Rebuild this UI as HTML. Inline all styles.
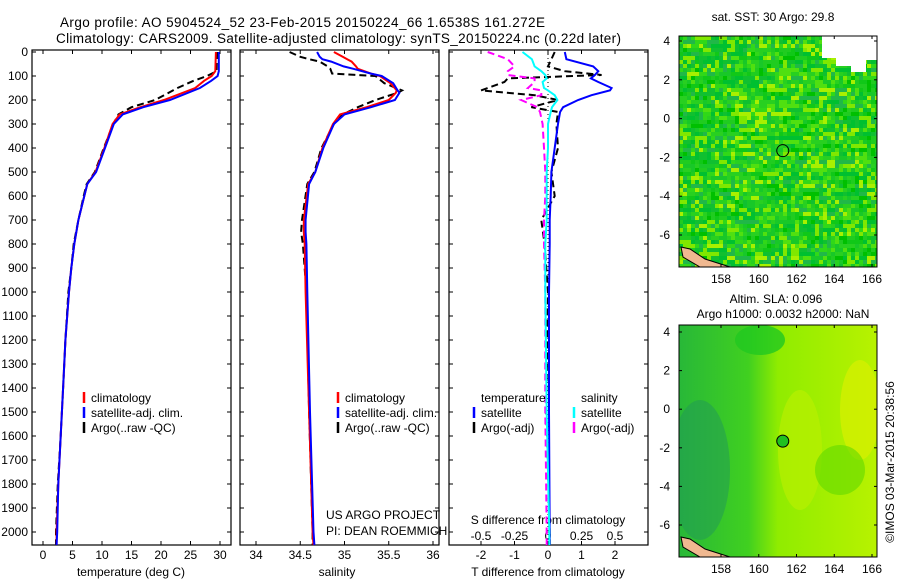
<!DOCTYPE html>
<html><head><meta charset="utf-8"><style>
html,body{margin:0;padding:0;background:#fff;}
svg{display:block;font-family:"Liberation Sans",sans-serif;}
</style></head><body>
<svg id="fig" width="900" height="580" viewBox="0 0 900 580" xmlns="http://www.w3.org/2000/svg">
<text x="60" y="27" font-size="13.5" textLength="485">Argo profile: AO 5904524_52 23-Feb-2015 20150224_66 1.6538S 161.272E</text>
<text x="56" y="43" font-size="13.5" textLength="565">Climatology: CARS2009. Satellite-adjusted climatology: synTS_20150224.nc (0.22d later)</text>
<g id="plots"></g>
</svg>
<script>
// ---- data ----
const tDepth   = [0,80,100,120,150,200,230,260,300,400,500,550,600,700,800,900,1000,1200,1400,1600,1800,2000,2054];
const tClim    = [29.3,29.2,28.6,27.3,25.8,20.5,16.5,13,11.8,10.4,8.9,7.5,7,6,5.3,4.8,4.4,3.8,3.4,3,2.6,2.3,2.3];
const tSat     = [29.8,29.8,29.6,28.5,26.6,21.5,17,13.5,12,10.5,9,7.5,7,6,5.3,4.8,4.4,3.8,3.4,3,2.6,2.4,2.3];
const tArgo    = [29.5,29.4,27.8,25.5,22.8,19,15,12.8,11.9,10.3,8.8,7.4,6.9,6,5.2,4.8,4.3,3.8,3.4,3,2.5,2.2,2.2];
const sDepth   = [0,20,30,40,60,70,90,100,130,160,170,200,230,260,300,400,500,550,700,750,800,1000,1500,2000,2054];
const sClim    = [34.88,34.98,35.03,35.08,35.13,35.15,35.3,35.4,35.52,35.59,35.58,35.5,35.25,34.95,34.87,34.75,34.67,34.59,34.54,34.54,34.55,34.56,34.6,34.64,34.65];
const sSat     = [34.69,34.72,34.75,34.85,34.99,35.1,35.3,35.42,35.55,35.6,35.62,35.57,35.3,35.0,34.88,34.76,34.67,34.6,34.56,34.56,34.57,34.58,34.61,34.65,34.66];
const sArgo    = [34.38,34.5,34.6,34.72,34.81,34.84,34.86,35.35,35.45,35.65,35.6,35.35,35.15,34.98,34.88,34.74,34.66,34.58,34.52,34.51,34.53,34.57,34.6,34.64,34.64];
const dDepth   = [0,30,60,80,96,110,125,150,160,180,200,230,250,300,400,500,600,700,800,1000,1500,2000,2054];
const dTSat    = [0.5,0.55,1.35,1.5,1.4,1.28,1.5,1.9,1.85,1.3,0.9,0.45,0.36,0.3,0.2,0.1,0.08,0.05,0.05,0.03,0.03,0.05,0.05];
const dTArgo   = [0.2,0.1,0,0.5,1.6,-1.2,-1.3,-1.8,-2.0,-0.4,0.3,-0.5,0.3,0.25,0.3,0.1,0.2,-0.2,-0.1,0,-0.05,0.05,0.05];
const dSSat    = [-0.19,-0.12,-0.1,-0.05,-0.02,-0.01,-0.04,-0.03,0.0,0.05,0.07,0.03,0.02,0.0,0.0,-0.01,-0.01,-0.01,-0.02,-0.02,-0.01,0.01,0.01];
const dSArgo   = [-0.45,-0.3,-0.25,-0.3,-0.3,-0.1,-0.1,-0.15,-0.05,-0.05,-0.2,-0.08,-0.06,-0.04,-0.03,-0.02,-0.02,-0.03,-0.03,-0.02,-0.02,-0.01,-0.01];
const depthTicks = [0,100,200,300,400,500,600,700,800,900,1000,1100,1200,1300,1400,1500,1600,1700,1800,1900,2000];
const tTicks = [0,5,10,15,20,25,30];
const sTicks = [34,34.5,35,35.5,36];
const dTTicks = [-2,-1,0,1,2];
const dSTicks = [-0.5,-0.25,0,0.25,0.5];
const lonTicks = [158,160,162,164,166];
const latTicks = [4,2,0,-2,-4,-6];
const floatLon = [161.272];
const floatLat = [-1.6538];

const NS='http://www.w3.org/2000/svg';
const root=document.getElementById('plots');
function mk(tag,attrs,parent){const e=document.createElementNS(NS,tag);for(const k in attrs)e.setAttribute(k,attrs[k]);(parent||root).appendChild(e);return e;}
function txt(x,y,s,size,anchor,parent){const e=mk('text',{x:x,y:y,'font-size':size||12,'text-anchor':anchor||'start'},parent);e.textContent=s;return e;}

const TOP=50,BOT=545;
const yD=d=>52+d*0.24;
const xT=v=>43+v*5.9;
const xS=v=>256+(v-34)*88.5;
const xDT=v=>548+v*33.5;
const xDS=v=>548+v*134;

function panel(x0,x1,name){
  const r=mk('rect',{x:x0,y:TOP,width:x1-x0,height:BOT-TOP,fill:'none',stroke:'#000','stroke-width':1.2});
  
  
  depthTicks.forEach(d=>{const y=yD(d);mk('line',{x1:x0,x2:x0+4,y1:y,y2:y,stroke:'#000'});mk('line',{x1:x1-4,x2:x1,y1:y,y2:y,stroke:'#000'});});
}
function xticks(x0,x1,ticks,f,labelY,fmt){
  ticks.forEach(v=>{const x=f(v);mk('line',{x1:x,x2:x,y1:TOP,y2:TOP+4,stroke:'#000'});mk('line',{x1:x,x2:x,y1:BOT-4,y2:BOT,stroke:'#000'});
    const t=txt(x,labelY,fmt?fmt(v):String(v),12,'middle');});
}
function line(depths,vals,fx,color,dash,name,w){
  const pts=depths.map((d,i)=>fx(vals[i]).toFixed(1)+','+yD(d).toFixed(1)).join(' ');
  const p=mk('polyline',{points:pts,fill:'none',stroke:color,'stroke-width':w||2,'stroke-dasharray':dash||'none'});
  
  
}
function legend(x,y,items){
  items.forEach((it,i)=>{const yy=y+i*15;mk('line',{x1:x,x2:x,y1:yy-10,y2:yy+1,stroke:it[1],'stroke-width':2.5});
    const t=txt(x+7,yy,it[0],12);});
}

// Panel 1 temperature
panel(32,231,'temperature-panel');
depthTicks.forEach(d=>{const t=txt(28,yD(d)+4,String(d),12,'end');});
xticks(32,231,tTicks,xT,559);
let at=txt(131,576,'temperature (deg C)',12,'middle');
line(tDepth,tArgo,xT,'#000','7,4','temp-argo-line');
line(tDepth,tClim,xT,'#f00',null,'temp-climatology-line');
line(tDepth,tSat,xT,'#00f',null,'temp-satellite-line');
legend(84,402,[['climatology','#f00'],['satellite-adj. clim.','#00f'],['Argo(..raw -QC)','#000']]);

// Panel 2 salinity
panel(240,439,'salinity-panel');
xticks(240,439,sTicks,xS,559);
at=txt(337,576,'salinity',12,'middle');
line(sDepth,sArgo,xS,'#000','7,4','sal-argo-line');
line(sDepth,sClim,xS,'#f00',null,'sal-climatology-line');
line(sDepth,sSat,xS,'#00f',null,'sal-satellite-line');
legend(338,402,[['climatology','#f00'],['satellite-adj. clim.','#00f'],['Argo(..raw -QC)','#000']]);
txt(326,519,'US ARGO PROJECT',12);
txt(326,535,'PI: DEAN ROEMMICH',12);

// Panel 3 differences
panel(449,648,'difference-panel');
xticks(449,648,dTTicks,xDT,559);
dSTicks.forEach(v=>{const t=txt(xDS(v),540,String(v),12,'middle');});
at=txt(548,576,'T difference from climatology',12,'middle');
at=txt(548,524,'S difference from climatology',12,'middle');
mk('line',{x1:xDT(0),x2:xDT(0),y1:TOP,y2:BOT,stroke:'#000','stroke-dasharray':'1,3'});
line(dDepth,dTArgo,xDT,'#000','7,4','tdiff-argo-line');
line(dDepth,dSArgo,xDS,'#f0f','7,4','sdiff-argo-line');
line(dDepth,dTSat,xDT,'#00f',null,'tdiff-satellite-line');
line(dDepth,dSSat,xDS,'#0ff',null,'sdiff-satellite-line');
txt(481,402,'temperature',12);
txt(581,402,'salinity',12);
legend(474,417,[['satellite','#00f'],['Argo(-adj)','#000']]);
legend(574,417,[['satellite','#0ff'],['Argo(-adj)','#f0f']]);

// Maps
function map(top,bottom,lat4,latm6,name,kind){
  const L=679,R=877;
  const lonX=v=>721+(v-158)*(151/8);
  const latY=v=>lat4+(4-v)*((latm6-lat4)/10);
  const g=mk('g',{});
  
  
  const cid='clip'+top;
  const cp=mk('clipPath',{id:cid},g);mk('rect',{x:L,y:top,width:R-L,height:bottom-top},cp);
  const inner=mk('g',{'clip-path':'url(#'+cid+')'},g);
  if(kind==='sst'){
    mk('rect',{x:L,y:top,width:R-L,height:bottom-top,fill:'#18c828'},inner);
    // texture cells (background imagery)
    const cols=['#10c030','#20cc20','#18c828','#30d818','#00c030','#10c818','#50e010','#20b848','#80e800','#00c000','#28d020','#a8f000'];
    let s=7;
    for(let yy=top;yy<bottom;yy+=4)for(let xx=L;xx<R;xx+=4){s=(s*1103515245+12345)&0x7fffffff;const c=cols[(s>>8)%12];mk('rect',{x:xx,y:yy,width:4,height:4,fill:c},inner);}
    mk('path',{d:'M822 36 H877 V60 H866 V72 H851 V66 H836 V58 H822 Z',fill:'#fff'},inner);
  } else {
    const gid='g'+top;
    const lg=mk('linearGradient',{id:gid,x1:0,x2:1,y1:0,y2:0},g);
    mk('stop',{offset:'0','stop-color':'#28b838'},lg);mk('stop',{offset:'0.35','stop-color':'#40d020'},lg);
    mk('stop',{offset:'0.5','stop-color':'#90ec00'},lg);mk('stop',{offset:'1','stop-color':'#b8f200'},lg);
    mk('rect',{x:L,y:top,width:R-L,height:bottom-top,fill:'url(#'+gid+')'},inner);
    mk('ellipse',{cx:700,cy:470,rx:30,ry:70,fill:'#209858',opacity:0.5},inner);
    mk('ellipse',{cx:760,cy:340,rx:25,ry:15,fill:'#20c820',opacity:0.8},inner);
    mk('ellipse',{cx:800,cy:450,rx:22,ry:60,fill:'#b8f000',opacity:0.7},inner);
    mk('ellipse',{cx:860,cy:410,rx:20,ry:50,fill:'#d8f000',opacity:0.7},inner);
    mk('ellipse',{cx:840,cy:470,rx:25,ry:25,fill:'#60d800',opacity:0.6},inner);
  }
  mk('path',{d:'M681 '+(bottom-20)+' L690 '+(bottom-18)+' L705 '+(bottom-8)+' L730 '+(bottom)+' L700 '+bottom+' L683 '+(bottom-10)+' Z',fill:'#f0b890',stroke:'#000','stroke-width':1},inner);
  mk('rect',{x:L,y:top,width:R-L,height:bottom-top,fill:'none',stroke:'#000'},g);
  lonTicks.forEach(v=>{const x=lonX(v);mk('line',{x1:x,x2:x,y1:top,y2:top+3,stroke:'#000'},g);mk('line',{x1:x,x2:x,y1:bottom-3,y2:bottom,stroke:'#000'},g);const t=txt(x,bottom+16,String(v),12,'middle',g);});
  latTicks.forEach(v=>{const y=latY(v);mk('line',{x1:L,x2:L+3,y1:y,y2:y,stroke:'#000'},g);mk('line',{x1:R-3,x2:R,y1:y,y2:y,stroke:'#000'},g);const t=txt(L-9,y+4,String(v),12,'end',g);});
  const m=mk('circle',{cx:lonX(floatLon[0]),cy:latY(floatLat[0]),r:6,fill:kind==='sst'?'none':'#20c020',stroke:'#000','stroke-width':1},g);
  
  
}
map(36,267,41,235,'sst-map','sst');
map(325,557,332,525,'sla-map','sla');
txt(773,21,'sat. SST: 30 Argo: 29.8',12,'middle');
txt(776,303,'Altim. SLA: 0.096',12,'middle');
txt(783,318,'Argo h1000: 0.0032 h2000: NaN',12,'middle');
const ts=txt(0,0,'©IMOS 03-Mar-2015 20:38:56',12,'middle');
ts.setAttribute('transform','translate(894,462) rotate(-90)');

</script>
</body></html>
